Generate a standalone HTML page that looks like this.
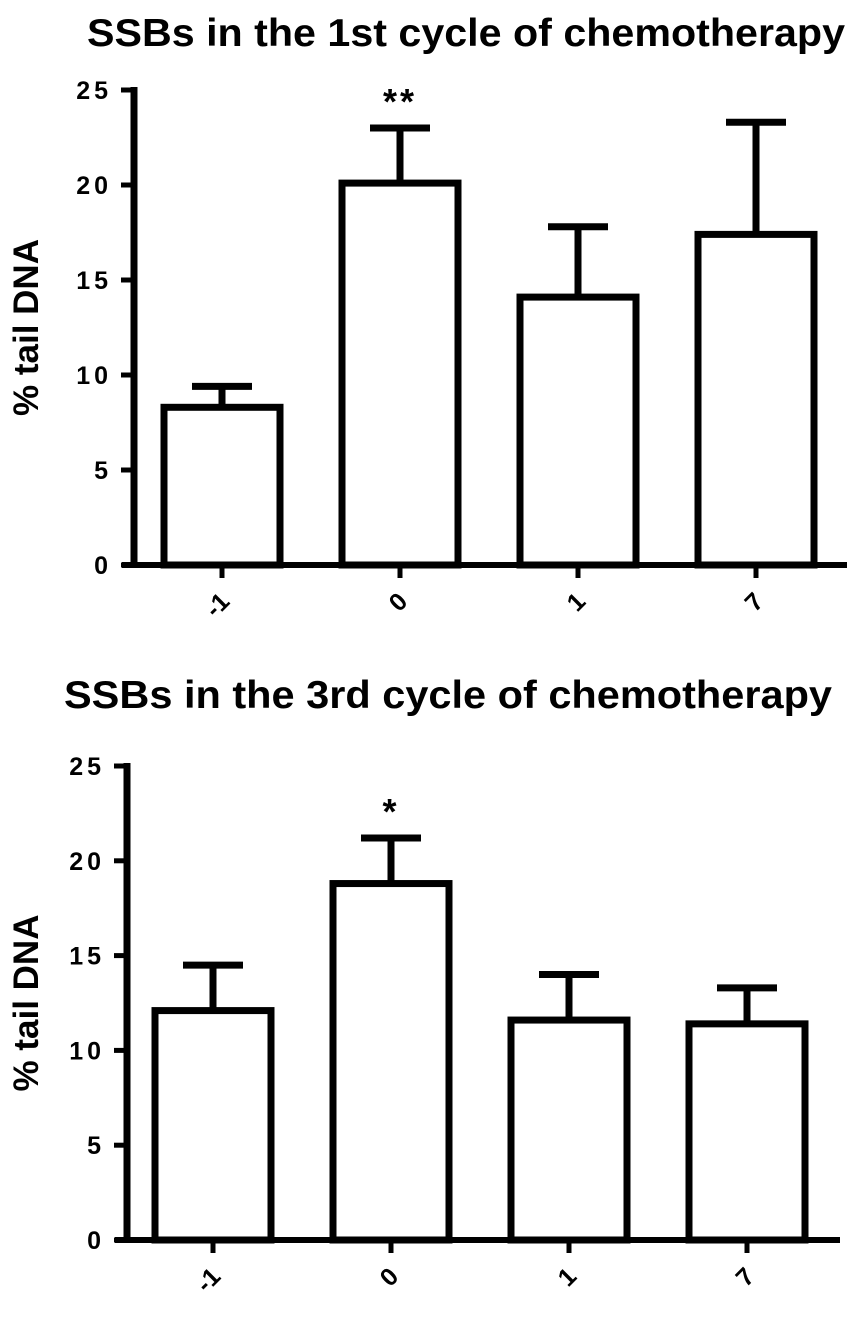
<!DOCTYPE html>
<html><head><meta charset="utf-8"><style>
body{margin:0;background:#fff;}
svg{display:block;font-family:"Liberation Sans",Arial,sans-serif;font-weight:bold;}
</style></head><body>
<svg id="chart" width="865" height="1326" viewBox="0 0 865 1326">
<text x="466" y="46" text-anchor="middle" font-size="39" textLength="758" lengthAdjust="spacingAndGlyphs">SSBs in the 1st cycle of chemotherapy</text>
<text x="448" y="708" text-anchor="middle" font-size="39" textLength="768" lengthAdjust="spacingAndGlyphs">SSBs in the 3rd cycle of chemotherapy</text>
</svg>
<script>
const categories = ["-1","0","1","7"];
const yTicks = [0,5,10,15,20,25];
const cycle1Means = [8.3, 20.1, 14.1, 17.4];
const cycle1Errors = [9.4, 23.0, 17.8, 23.3];
const cycle1Sig = ["", "**", "", ""];
const cycle3Means = [12.1, 18.8, 11.6, 11.4];
const cycle3Errors = [14.5, 21.2, 14.0, 13.3];
const cycle3Sig = ["", "*", "", ""];

const NS = "http://www.w3.org/2000/svg";
const svg = document.getElementById("chart");
function mk(tag, attrs){const e=document.createElementNS(NS,tag);for(const k in attrs)e.setAttribute(k,attrs[k]);svg.appendChild(e);return e;}

function drawPanel(p, means, errs, sig, prefix){
  const y = v => p.y0 - (v/25)*(p.y0-p.y25);
  const x = i => p.x0 + i*p.step;
  const ax = mk("line",{x1:p.ax,y1:p.y25-3,x2:p.ax,y2:p.y0+3,stroke:"#000","stroke-width":7});
  
  
  const bx = mk("line",{x1:p.ax-12,y1:p.y0,x2:p.xEnd,y2:p.y0,stroke:"#000","stroke-width":6});
  
  
  yTicks.forEach(t=>{
    const tk = mk("line",{x1:p.ax-13,y1:y(t),x2:p.ax,y2:y(t),stroke:"#000","stroke-width":5});
    
    
    const tl = mk("text",{x:p.ax-22,y:y(t)+9,"text-anchor":"end","font-size":25,"letter-spacing":"4"});
    tl.textContent = t;
    
    
  });
  const yt = mk("text",{transform:`translate(${p.ytx},${(p.y0+p.y25)/2}) rotate(-90)`,"text-anchor":"middle","font-size":35});
  yt.textContent = "% tail DNA";
  
  
  categories.forEach((c,i)=>{
    const cx = x(i), hw = 58;
    const eb = mk("line",{x1:cx,y1:y(errs[i]),x2:cx,y2:y(means[i]),stroke:"#000","stroke-width":7});
    
    
    const cap = mk("line",{x1:cx-30,y1:y(errs[i]),x2:cx+30,y2:y(errs[i]),stroke:"#000","stroke-width":7});
    
    
    const b = mk("rect",{x:cx-hw,y:y(means[i]),width:hw*2,height:p.y0-y(means[i]),fill:"#fff",stroke:"#000","stroke-width":7});
    
    
    const tk = mk("line",{x1:cx,y1:p.y0,x2:cx,y2:p.y0+13,stroke:"#000","stroke-width":5});
    
    
    const tl = mk("text",{transform:`translate(${cx+9},${p.y0+38}) rotate(-45)`,"text-anchor":"end","font-size":25});
    tl.textContent = c;
    
    
    if(sig[i]){
      const s = mk("text",{x:cx,y:y(errs[i])-14,"text-anchor":"middle","font-size":36,"letter-spacing":"3"});
      s.textContent = sig[i];
      
      
    }
  });
}
drawPanel({ax:134,y0:565,y25:90,x0:222,step:178,xEnd:847,ytx:38}, cycle1Means, cycle1Errors, cycle1Sig, "cycle1");
drawPanel({ax:127,y0:1240,y25:766,x0:213,step:178,xEnd:840,ytx:38}, cycle3Means, cycle3Errors, cycle3Sig, "cycle3");
</script>
</body></html>
